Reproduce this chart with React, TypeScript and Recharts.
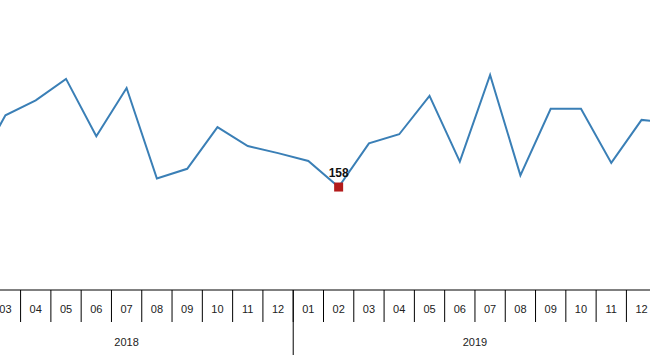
import { LineChart, Line, XAxis, YAxis } from "recharts";

// monthly series, first and last points sit just outside the visible window
const months = [
  "2018-02", "2018-03", "2018-04", "2018-05", "2018-06", "2018-07",
  "2018-08", "2018-09", "2018-10", "2018-11", "2018-12", "2019-01",
  "2019-02", "2019-03", "2019-04", "2019-05", "2019-06", "2019-07",
  "2019-08", "2019-09", "2019-10", "2019-11", "2019-12", "2020-01",
];
const values = [
  184, 268, 291, 324, 236, 310, 171, 186, 250, 221, 210, 198,
  158, 225, 239, 298, 197, 330, 176, 278, 278, 195, 261, 257,
];
const markedMonth = "2019-02";

const data = months.map((m, i) => ({ month: m, value: values[i] }));

const CHART_W = 727;
const BAND = CHART_W / months.length;
const FONT = "Arial, 'Liberation Sans', sans-serif";

function MonthTick(props: any) {
  const { x, y, payload } = props;
  const key: string = payload.value;
  const [year, mon] = key.split("-");
  const idx = months.indexOf(key);
  const left = x - BAND / 2;
  const firstOfGroup = idx === 0 || mon === "01";
  let yearLabel = null;
  if (firstOfGroup) {
    const count = months.filter((m) => m.startsWith(year + "-")).length;
    yearLabel = (
      <text x={left + (count * BAND) / 2} y={y + 56} textAnchor="middle" fontSize={11} fontFamily={FONT} fill="#222">
        {year}
      </text>
    );
  }
  return (
    <g>
      <line x1={left} x2={left} y1={y} y2={y + 32} stroke="#000" />
      {mon === "01" && <line x1={left} x2={left} y1={y} y2={y + 65} stroke="#000" />}
      <text x={x} y={y + 23} textAnchor="middle" fontSize={11} fontFamily={FONT} fill="#222">
        {mon}
      </text>
      {yearLabel}
    </g>
  );
}

function MarkDot(props: any) {
  const { cx, cy, payload, index } = props;
  if (payload.month !== markedMonth) return <g key={"d" + index} />;
  return (
    <g key={"d" + index}>
      <rect x={cx - 4.5} y={cy - 4.5} width={9} height={9} fill="#b31b1b" />
      <text x={cx} y={cy - 10} textAnchor="middle" fontSize={12} fontWeight="bold" fontFamily={FONT} fill="#111">
        {payload.value}
      </text>
    </g>
  );
}

export default function App() {
  return (
    <div style={{ position: "fixed", left: 0, top: 0, width: 650, height: 360, overflow: "hidden", background: "#fff" }}>
      <div style={{ position: "absolute", left: -40, top: 0 }}>
        <LineChart width={CHART_W} height={360} data={data} margin={{ top: 0, right: 0, bottom: 0, left: 0 }}>
          <XAxis
            dataKey="month"
            scale="point"
            padding={{ left: BAND / 2, right: BAND / 2 }}
            height={70}
            interval={0}
            tickLine={false}
            tickSize={0}
            tickMargin={0}
            axisLine={{ stroke: "#000" }}
            tick={<MonthTick />}
          />
          <YAxis hide domain={[0, 445]} />
          <Line
            type="linear"
            dataKey="value"
            stroke="#3a7fb6"
            strokeWidth={2}
            dot={(p: any) => <MarkDot {...p} />}
            activeDot={false}
            isAnimationActive={false}
          />
        </LineChart>
      </div>
    </div>
  );
}
